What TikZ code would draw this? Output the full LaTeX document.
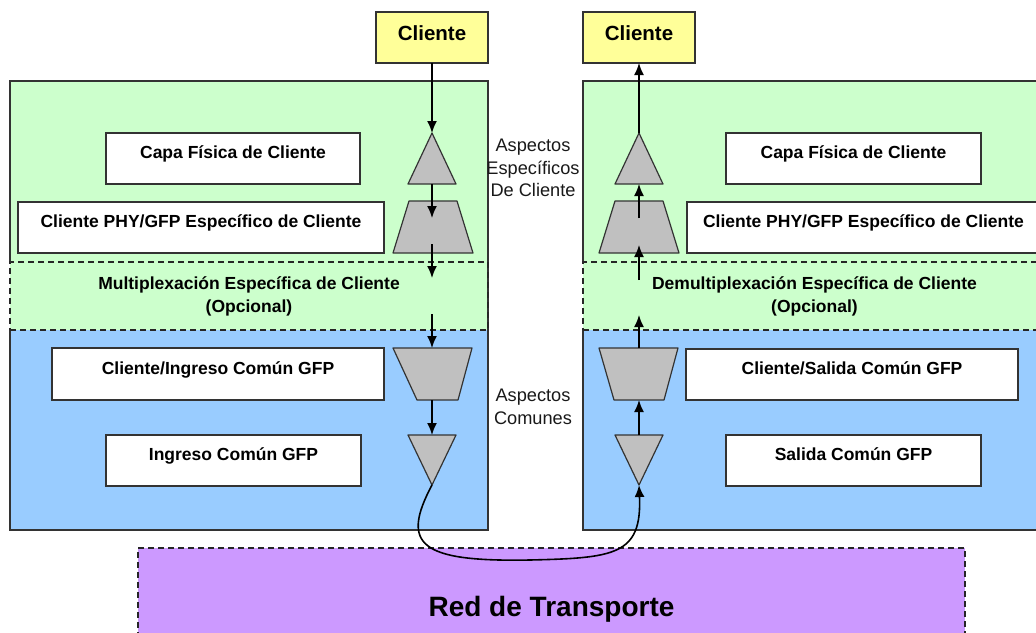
\documentclass[tikz,border=0pt]{standalone}
\usepackage{fontspec}
\setmainfont{Liberation Sans}
\usetikzlibrary{arrows.meta}
\definecolor{gfill}{HTML}{CCFFCC}
\definecolor{bfill}{HTML}{99CCFF}
\definecolor{yfill}{HTML}{FFFF99}
\definecolor{pfill}{HTML}{CC99FF}
\definecolor{shp}{HTML}{C0C0C0}
\definecolor{edge}{HTML}{333333}
\begin{document}
\begin{tikzpicture}[x=1pt,y=-1pt,
  edgeline/.style={draw=edge,line width=1.3pt},
  dashbox/.style={draw=black!85,line width=1.3pt,dash pattern=on 6pt off 4pt,inner sep=0pt,outer sep=0pt,anchor=north west,align=center,font=\fontsize{17.5}{23}\bfseries\selectfont},
  wbox/.style={draw=edge,line width=1.3pt,fill=white,inner sep=0pt,outer sep=0pt,anchor=north west,text height=13pt,text depth=13pt,font=\fontsize{17.5}{21}\bfseries\selectfont},
  cbox/.style={draw=edge,line width=1.3pt,fill=yfill,inner sep=0pt,outer sep=0pt,anchor=north west,minimum width=112pt,minimum height=51pt,text height=15pt,text depth=9.4pt,font=\fontsize{20.5}{24}\bfseries\selectfont},
  greyshape/.style={draw=edge,line width=1.2pt,fill=shp,line join=round},
  flow/.style={line width=1.6pt,-{Latex[length=12pt,width=10pt]}},
  side/.style={align=center,inner sep=0pt,text=black!90,font=\fontsize{18.2}{22.5}\selectfont}
]
\useasboundingbox (0,0) rectangle (1036,632);
\fill[white] (0,0) rectangle (1036,632);

% panels
\fill[gfill] (10,81) rectangle (488,330);
\fill[bfill] (10,330) rectangle (488,530);
\fill[gfill] (583,81) rectangle (1046,330);
\fill[bfill] (583,330) rectangle (1046,530);
\draw[edgeline] (10,262) -- (10,81) -- (488,81) -- (488,530) -- (10,530) -- (10,330);
\draw[edgeline] (1046,81) -- (583,81) -- (583,262);
\draw[edgeline] (583,330) -- (583,530) -- (1046,530);

% optional multiplexing boxes
\node[dashbox,minimum width=478pt,minimum height=68pt] (muxL) at (10,262)
  {Multiplexación Específica de Cliente\\(Opcional)};
\node[dashbox,minimum width=463pt,minimum height=68pt] (muxR) at (583,262)
  {Demultiplexación Específica de Cliente\\(Opcional)};

% client boxes
\node[cbox] (cliL) at (376,12) {Cliente};
\node[cbox] (cliR) at (583,12) {Cliente};

% left white boxes
\node[wbox,minimum width=254pt,minimum height=51pt] (capaL) at (106,133) {Capa Física de Cliente};
\node[wbox,minimum width=366pt,minimum height=51pt] (phyL) at (18,202) {Cliente PHY/GFP Específico de Cliente};
\node[wbox,minimum width=332pt,minimum height=52pt] (cinL) at (52,348) {Cliente/Ingreso Común GFP};
\node[wbox,minimum width=255pt,minimum height=51pt] (inL) at (106,435) {Ingreso Común GFP};

% right white boxes
\node[wbox,minimum width=255pt,minimum height=51pt] (capaR) at (726,133) {Capa Física de Cliente};
\node[wbox,minimum width=353pt,minimum height=51pt] (phyR) at (687,202) {Cliente PHY/GFP Específico de Cliente};
\node[wbox,minimum width=332pt,minimum height=51pt] (coutR) at (686,349) {Cliente/Salida Común GFP};
\node[wbox,minimum width=255pt,minimum height=51pt] (outR) at (726,435) {Salida Común GFP};

% middle labels
\node[side] (aspEsp) at (533,168) {Aspectos\\Específicos\\De Cliente};
\node[side] (aspCom) at (533,407) {Aspectos\\Comunes};

% transport network
\node[dashbox,fill=pfill,minimum width=827pt,minimum height=122pt,font=\fontsize{28}{32}\bfseries\selectfont] (red) at (138,548) {Red de Transporte};

% left shapes
\draw[greyshape] (408,184) -- (432,133) -- (456,184) -- cycle;
\draw[greyshape] (409,201) -- (457,201) -- (473,253) -- (393,253) -- cycle;
\draw[greyshape] (393,348) -- (472,348) -- (458,400) -- (417,400) -- cycle;
\draw[greyshape] (408,435) -- (456,435) -- (432,485) -- cycle;
% right shapes
\draw[greyshape] (615,184) -- (639,133) -- (663,184) -- cycle;
\draw[greyshape] (615,201) -- (663,201) -- (679,253) -- (599,253) -- cycle;
\draw[greyshape] (599,348) -- (678,348) -- (664,400) -- (614,400) -- cycle;
\draw[greyshape] (615,435) -- (663,435) -- (639,485) -- cycle;

% named points of the shapes
\coordinate (t1Ltop) at (432,133);
\coordinate (t1Lbot) at (432,184);
\coordinate (z1Lmid) at (432,218);
\coordinate (z1Llow) at (432,244);
\coordinate (mLmid) at (432,278);
\coordinate (mLlow) at (432,314);
\coordinate (z2Ltop) at (432,348);
\coordinate (z2Lbot) at (432,400);
\coordinate (t2Ltop) at (432,435);
\coordinate (t2Lapex) at (432,485);

\coordinate (t1Rtop) at (639,133);
\coordinate (t1Rbot) at (639,184);
\coordinate (z1Rmid) at (639,218);
\coordinate (z1Rhigh) at (639,245);
\coordinate (mRmid) at (639,280);
\coordinate (mRhigh) at (639,315);
\coordinate (z2Rtop) at (639,348);
\coordinate (z2Rbot) at (639,400);
\coordinate (t2Rtop) at (639,435);
\coordinate (t2Rapex) at (639,485);

% left flow (downwards)
\draw[flow] (cliL.south) -- (t1Ltop);
\draw[flow] (t1Lbot) -- (z1Lmid);
\draw[flow] (z1Llow) -- (mLmid);
\draw[flow] (mLlow) -- (z2Ltop);
\draw[flow] (z2Lbot) -- (t2Ltop);

% right flow (upwards)
\draw[flow] (t1Rtop) -- (cliR.south);
\draw[flow] (z1Rmid) -- (t1Rbot);
\draw[flow] (mRmid) -- (z1Rhigh);
\draw[flow] (z2Rtop) -- (mRhigh);
\draw[flow] (t2Rtop) -- (z2Rbot);

% transport loop
\draw[flow] (t2Lapex) .. controls (400,545) and (420,562) .. (530,560)
  .. controls (615,558) and (642,555) .. (t2Rapex);
\end{tikzpicture}
\end{document}
